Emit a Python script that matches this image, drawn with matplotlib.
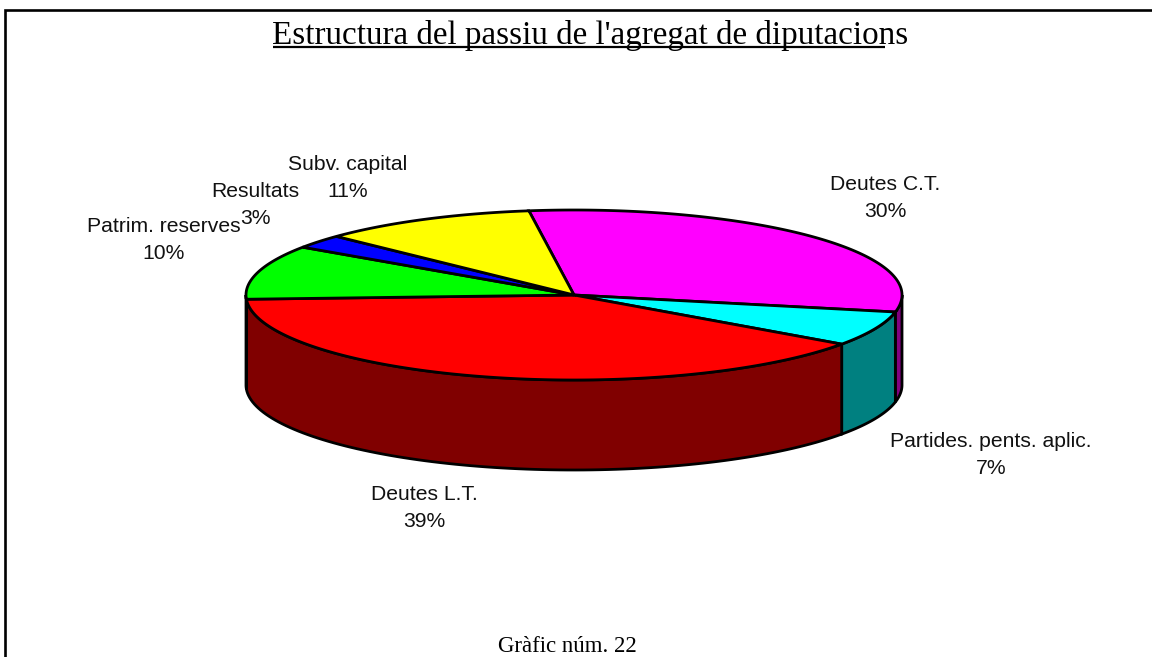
import numpy as np
import matplotlib
matplotlib.use('Agg')
import matplotlib.pyplot as plt

# Dades
categories = ['Deutes C.T.', 'Partides. pents. aplic.', 'Deutes L.T.',
              'Patrim. reserves', 'Resultats', 'Subv. capital']
valors = [30.4, 6.6, 39.4, 10.3, 2.6, 10.7]
colors_top = ['#FF00FF', '#00FFFF', '#FF0000', '#00FF00', '#0000FF', '#FFFF00']
colors_side = ['#800080', '#008080', '#800000', '#008000', '#000080', '#808000']
etiquetes = [f'{c}\n{round(v)}%' for c, v in zip(categories, valors)]
titol = "Estructura del passiu de l'agregat de diputacions"
peu = 'Gràfic núm. 22'

# Geometria del pastis (pixels)
cx, cy = 574, 295
rx, ry = 328, 85
alt = 90
inici = 97.9

# posicio de les etiquetes, en el mateix ordre que categories
pos_etiq = [(885, 198), (991, 455), (424, 508), (164, 240), (255.5, 205), (347.5, 178)]

W, H = 1152, 657
fig = plt.figure(figsize=(W / 100, H / 100), dpi=100)
ax = fig.add_axes([0, 0, 1, 1])
ax.set_xlim(0, W)
ax.set_ylim(H, 0)
ax.axis('off')


def punts(t):
    t = np.radians(t)
    return cx + rx * np.cos(t), cy - ry * np.sin(t)


# angles dels sectors, en sentit horari
fraccions = np.array(valors) / sum(valors)
angles = inici - 360 * np.concatenate([[0], np.cumsum(fraccions)])

# cara lateral: nomes la part frontal (de 0 a -180 graus)
for i in range(len(valors)):
    hi = min(angles[i], 0)
    lo = max(angles[i + 1], -180)
    if hi <= lo:
        continue
    t = np.linspace(hi, lo, 100)
    x, y = punts(t)
    ax.fill(np.r_[x, x[::-1]], np.r_[y, y[::-1] + alt],
            facecolor=colors_side[i], edgecolor='black', lw=2, zorder=2)

# cara superior
for i in range(len(valors)):
    t = np.linspace(angles[i], angles[i + 1], 200)
    x, y = punts(t)
    ax.fill(np.r_[cx, x], np.r_[cy, y], facecolor=colors_top[i],
            edgecolor='black', lw=2, zorder=3)

for (x, y), txt in zip(pos_etiq, etiquetes):
    ax.text(x, y, txt, ha='center', va='center', family='Liberation Sans',
            fontsize=15.2, color='#111111', linespacing=1.53, zorder=5)

ax.text(590.5, 44, titol, ha='center', va='baseline', family='Liberation Serif',
        fontsize=23.9, color='black')
ax.plot([273, 885], [47, 47], color='black', lw=1.6, solid_capstyle='butt')
ax.text(567, 652, peu, ha='center', va='baseline', family='Liberation Serif',
        fontsize=16.5, color='black')

# marc
ax.plot([5, 5, W], [H, 10, 10], color='black', lw=1.9, solid_joinstyle='miter')

fig.savefig('out.png', dpi=100)
